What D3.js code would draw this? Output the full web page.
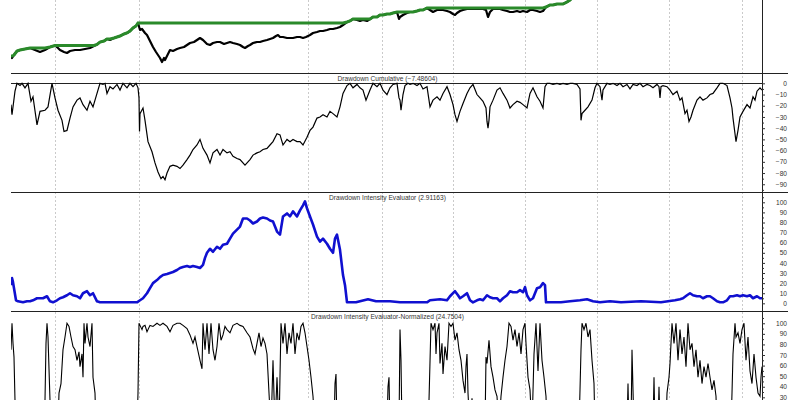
<!DOCTYPE html>
<html><head><meta charset="utf-8">
<script src="https://cdn.jsdelivr.net/npm/d3@7"></script>
<style>body{margin:0;background:#fff}svg{display:block}text{font-family:"Liberation Sans",Arial,sans-serif}</style>
</head><body><svg id="c" width="800" height="400"></svg>
<script>
// ---- data (bar index, value) ----
const gridBars = [44,128,297,371,442,514,586,658,731];
const price = [[0,17],[1,15],[3,18],[6,22],[9,23],[14,24],[19,25],[24,23],[29,21],[34,23],[39,26],[44,27.5],[47,25],[49,23],[53,21],[56,20],[59,22],[64,23],[69,23],[74,24],[79,25],[83,27],[86,28.5],[89,31],[93,32],[96,34],[99,33],[103,35],[106,36],[109,37],[113,39],[116,40],[119,42],[122,45],[125,47],[127,50],[129,43],[131,44],[134,40],[136,38],[139,32],[142,26],[145,21],[147,18],[149,15],[151,11],[153,15],[154,13],[156,17],[159,23],[162,22],[166,24],[169,25],[173,26],[176,28],[179,30],[183,31],[186,33],[189,35],[192,33],[196,29],[199,28],[202,30],[206,31],[209,31],[213,29],[216,30],[219,31],[222,30],[226,29],[229,28],[232,26],[234,25],[237,27],[239,28],[242,30],[246,31],[249,31],[252,32],[256,33],[259,34],[262,35],[265,37],[267,38],[269,36],[272,36],[276,35],[279,35],[282,35],[286,36],[289,36],[292,35],[295,36],[299,38],[302,40],[306,41],[309,42],[312,42],[316,43],[319,44],[322,44],[326,45],[329,46],[332,48],[336,51],[339,52],[342,54],[346,53],[349,52],[352,53],[356,52],[359,54],[362,56],[366,56],[369,58],[372,58],[376,59],[379,59],[382,60],[386,61],[388,54],[389,56],[392,58],[396,60],[399,61],[402,61],[406,62],[409,63],[412,63],[416,65],[419,63],[422,61],[426,63],[429,63],[432,63],[436,62],[439,61],[442,59],[444,58],[446,60],[449,62],[452,63],[456,64],[459,64],[462,64],[466,64],[469,64],[472,64],[475,63],[477,56],[479,61],[482,64],[486,64],[489,64],[492,63],[496,62],[499,61],[502,61],[506,62],[509,61],[512,62],[516,61],[519,63],[522,63],[526,62],[529,61],[532,62],[535,66],[539,68],[542,68],[546,69],[549,69],[552,69],[556,71],[559,73],[562,76],[565,79],[569,83]];
const drawdown = [[0,-19],[1,-28],[4,-7],[6,0],[9,-2],[11,0],[14,-4],[17,0],[20,-16],[22,-12],[26,-37],[29,-25],[34,-24],[37,-21],[41,0],[44,-13],[47,-24],[51,-33],[53,-43],[56,-42],[59,-31],[62,-21],[66,-15],[69,-13],[72,-19],[76,-24],[79,-16],[82,-21],[86,-9],[89,0],[92,-1],[94,0],[96,-9],[99,-3],[102,-5],[106,-1],[109,-6],[112,0],[116,-4],[119,0],[122,-3],[125,0],[127,-4],[128,-13],[128.5,-43],[129,-27],[132,-22],[134,-33],[137,-52],[141,-61],[144,-71],[147,-79],[150,-85],[152,-83],[154,-86],[156,-80],[159,-74],[162,-73],[166,-74],[169,-76],[172,-73],[176,-68],[179,-64],[182,-59],[186,-55],[189,-50],[192,-58],[196,-64],[199,-71],[202,-62],[206,-59],[209,-64],[212,-59],[216,-62],[219,-61],[222,-65],[226,-67],[229,-68],[234,-73],[239,-68],[242,-64],[246,-62],[249,-61],[252,-59],[256,-58],[259,-55],[262,-52],[266,-45],[269,-46],[272,-55],[276,-50],[279,-52],[282,-50],[286,-52],[289,-52],[292,-55],[296,-48],[299,-42],[302,-39],[306,-31],[309,-30],[312,-28],[316,-30],[319,-25],[322,-27],[326,-30],[329,-21],[332,-9],[336,-2],[339,0],[342,-4],[346,-1],[349,-4],[352,-6],[355,-15],[359,-6],[362,0],[366,-3],[369,0],[372,-6],[376,-10],[379,-4],[382,-1],[386,0],[388,-13],[389,-15],[390,-24],[392,-10],[394,-2],[397,0],[399,-1],[402,0],[406,-2],[409,0],[412,-5],[416,-3],[419,-21],[422,-15],[426,-12],[429,-15],[432,-9],[436,-3],[439,-10],[442,-19],[444,-28],[446,-34],[449,-25],[452,-18],[456,-9],[459,-4],[462,-1],[466,-10],[469,-13],[472,-16],[475,-22],[476,-34],[477,-40],[478,-33],[479,-21],[482,-15],[486,-6],[489,-4],[492,-9],[496,-15],[499,-22],[502,-19],[506,-16],[509,-17],[512,-19],[516,-22],[519,-9],[522,-4],[526,-12],[529,-16],[532,-22],[534,-3],[536,0],[539,0],[542,-1],[546,0],[549,-1],[552,0],[556,-1],[559,0],[562,0],[566,-1],[569,-5],[570,-33],[571,-27],[574,-24],[577,-21],[581,-15],[584,-4],[586,0],[589,-3],[591,-15],[592,-6],[596,0],[599,-1],[602,0],[606,-2],[609,0],[612,-3],[616,-1],[619,-5],[622,-1],[626,-2],[629,0],[632,-3],[636,-1],[639,-2],[642,-4],[646,-1],[648,-3],[649,-13],[650,-3],[652,-2],[656,-3],[659,-6],[662,-10],[666,-7],[669,-15],[671,-13],[674,-27],[676,-24],[678,-34],[680,-30],[682,-24],[686,-15],[689,-12],[692,-15],[696,-13],[699,-10],[702,-9],[706,-4],[709,0],[712,0],[716,-2],[719,-13],[721,-22],[722,-31],[724,-45],[725,-52],[727,-42],[729,-30],[732,-25],[736,-19],[739,-22],[742,-12],[744,-15],[746,-7],[749,-4],[751,-6]];
const intensity = [[0,18],[1,25],[2,21],[3,15],[5,3],[7,2],[12,1],[16,2],[19,2],[22,3],[26,5],[29,5],[32,5],[36,7],[39,2],[42,1],[46,3],[49,5],[52,6],[56,8],[59,10],[62,8],[66,7],[69,5],[72,10],[76,12],[79,8],[82,10],[86,2],[89,1],[100,1],[110,1],[120,1],[126,1],[129,3],[132,5],[136,10],[139,15],[142,20],[146,23],[149,26],[152,28],[156,29],[159,30],[162,31],[166,33],[169,35],[172,36],[176,37],[179,36],[182,37],[186,36],[189,35],[192,38],[194,45],[196,50],[199,54],[202,51],[206,56],[209,54],[212,58],[216,59],[219,64],[222,69],[226,73],[229,76],[232,84],[236,84],[239,82],[242,79],[246,81],[249,84],[252,85],[256,84],[259,82],[262,81],[266,71],[269,68],[272,86],[276,89],[279,86],[282,91],[286,86],[289,92],[292,97],[294,101],[296,94],[299,86],[302,78],[306,66],[309,61],[312,64],[316,59],[319,54],[322,50],[324,64],[326,68],[329,53],[332,28],[334,18],[336,1],[345,1],[357,4],[365,2],[379,2],[389,1],[416,1],[419,3],[429,4],[436,3],[439,7],[444,12],[447,8],[449,5],[452,7],[456,10],[459,3],[462,1],[466,3],[469,4],[472,3],[476,8],[479,6],[482,5],[486,5],[489,2],[492,5],[496,8],[499,12],[502,11],[506,11],[509,13],[512,11],[514,16],[516,8],[519,3],[522,5],[526,15],[529,16],[532,20],[534,18],[535,1],[550,1],[559,2],[569,3],[576,4],[582,2],[589,1],[599,2],[610,1],[630,2],[650,1],[664,3],[669,4],[672,5],[676,8],[679,10],[682,8],[686,7],[689,7],[692,5],[696,7],[699,7],[702,5],[706,2],[709,1],[712,1],[716,3],[719,7],[722,7],[726,8],[729,7],[732,8],[736,7],[739,8],[742,5],[746,7],[749,5],[751,5]];
const normalized = [[0,75],[1,100],[2,81],[3,68],[4,27],[5,0],[20,0],[33,0],[34,27],[35,81],[36,100],[37,87],[39,27],[40,0],[47,0],[48,34],[50,43],[52,75],[54,87],[56,100],[58,97],[60,87],[62,78],[64,75],[66,65],[68,73],[69,59],[71,71],[72,49],[73,100],[74,81],[76,100],[77,87],[79,78],[81,100],[82,49],[84,34],[85,0],[110,0],[126,0],[127,34],[128,100],[129,98],[131,94],[132,97],[134,98],[136,92],[139,98],[142,97],[146,100],[149,98],[152,100],[156,97],[159,92],[162,98],[166,100],[169,100],[172,98],[176,95],[179,89],[182,81],[184,87],[186,78],[189,65],[191,57],[192,100],[194,75],[196,100],[198,71],[200,100],[202,75],[204,65],[206,78],[208,100],[210,84],[212,89],[214,97],[216,94],[219,91],[222,98],[226,100],[229,98],[232,97],[236,91],[239,87],[242,76],[244,71],[246,81],[248,91],[250,78],[252,86],[254,81],[256,71],[258,34],[260,0],[262,65],[264,0],[266,49],[268,0],[270,100],[272,81],[274,100],[276,71],[278,91],[280,81],[282,100],[284,71],[286,91],[288,84],[290,97],[292,100],[294,91],[296,78],[298,65],[300,49],[302,31],[304,0],[323,0],[324,43],[325,52],[326,0],[376,0],[377,40],[378,49],[379,0],[388,0],[389,94],[390,65],[391,0],[417,0],[418,27],[420,100],[422,94],[424,100],[425,71],[426,91],[428,100],[429,62],[431,81],[432,52],[434,78],[436,65],[438,100],[440,97],[442,100],[444,84],[446,91],[448,75],[450,65],[452,46],[454,34],[455,59],[456,71],[457,34],[459,0],[461,29],[463,0],[474,0],[475,68],[476,62],[478,84],[480,59],[482,49],[484,37],[486,31],[488,0],[490,31],[492,49],[494,65],[496,78],[498,100],[500,97],[502,84],[504,94],[506,78],[508,91],[510,71],[512,94],[514,100],[515,81],[517,49],[519,37],[521,0],[523,71],[525,100],[527,55],[529,100],[531,65],[533,49],[535,31],[536,0],[568,0],[569,37],[570,75],[571,100],[573,94],[575,100],[577,87],[579,94],[581,65],[583,43],[584,0],[616,0],[617,43],[618,0],[620,0],[621,75],[622,37],[623,0],[642,0],[643,49],[644,0],[647,0],[648,40],[649,0],[655,0],[656,34],[658,49],[659,62],[661,100],[663,81],[665,100],[667,65],[669,94],[671,71],[673,87],[675,59],[677,100],[679,75],[681,81],[683,59],[685,75],[687,49],[689,65],[691,43],[693,59],[695,49],[697,62],[699,49],[701,37],[703,46],[705,31],[706,0],[720,0],[721,34],[722,71],[724,100],[725,87],[727,91],[729,81],[731,94],[733,100],[735,65],[737,87],[739,55],[741,43],[743,71],[745,49],[747,34],[749,31],[750,49],[751,59]];
const titles = ["", "Drawdown Cumulative (\u22127.48604)", "Drawdown Intensity  Evaluator (2.91163)", "Drawdown Intensity  Evaluator-Normalized (24.7504)"];
const ticks2 = [0,-10,-20,-30,-40,-50,-60,-70,-80,-90];
const ticks3 = [0,10,20,30,40,50,60,70,80,90,100];
const ticks4 = [30,40,50,60,70,80,90,100];
const minor2 = [-5,-15,-25,-35,-45,-55,-65,-75,-85,-95];
const minor3 = [5,15,25,35,45,55,65,75,85,95,105];
const minor4 = [25,35,45,55,65,75,85,95,105];

// ---- layout ----
const L = 11, R = 762;
const panels = [
  {top:-46, bottom:73, domain:[0,119]},
  {top:73, bottom:192, domain:[-96.9,9.2]},
  {top:192, bottom:311, domain:[-7.6,110.2]},
  {top:311, bottom:430, domain:[-0.9,111.6]}
];
const svg = d3.select("#c");
const x = d3.scaleLinear().domain([0,751]).range([L,R]);
panels.forEach((p,i)=>{
  p.y = d3.scaleLinear().domain(p.domain).range([p.bottom,p.top]);
  svg.append("clipPath").attr("id","cp"+i).append("rect")
    .attr("x",L).attr("y",p.top).attr("width",R-L).attr("height",p.bottom-p.top);
});

// gridlines
svg.append("g").selectAll("line").data(gridBars).join("line")
  .attr("x1",d=>Math.round(x(d))+0.5).attr("x2",d=>Math.round(x(d))+0.5).attr("y1",0).attr("y2",400)
  .attr("stroke","#bdbdbd").attr("stroke-width",0.8).attr("stroke-dasharray","2,2");

// separators
[73,192,311].forEach(yy=>{
  svg.append("line").attr("x1",L).attr("x2",788).attr("y1",yy+0.5).attr("y2",yy+0.5)
    .attr("stroke","#222").attr("stroke-width",1);
});
// zero line in panel 2
svg.append("line").attr("x1",L).attr("x2",R).attr("y1",Math.round(panels[1].y(0))+0.5).attr("y2",Math.round(panels[1].y(0))+0.5)
  .attr("stroke","#222").attr("stroke-width",1);

// right axis line
svg.append("line").attr("x1",R+0.5).attr("x2",R+0.5).attr("y1",0).attr("y2",400).attr("stroke","#222");

// titles
titles.forEach((t,i)=>{
  if(!t) return;
  svg.append("text").attr("x",(L+R)/2+1).attr("y",panels[i].top+7.5).attr("text-anchor","middle")
    .attr("font-size","6.6px").attr("fill","#333").text(t);
});

// axes
function axis(i, vals, minor){
  const g = svg.append("g").attr("transform",`translate(${R},0)`);
  g.call(d3.axisRight(panels[i].y).tickValues(minor).tickSize(2).tickFormat(""))
    .select(".domain").remove();
  g.selectAll(".tick line").attr("stroke","#333");
  const g2 = svg.append("g").attr("transform",`translate(${R},0)`);
  g2.call(d3.axisRight(panels[i].y).tickValues(vals).tickSize(3).tickPadding(2).tickFormat(d3.format("d")));
  g2.select(".domain").remove();
  g2.selectAll(".tick line").attr("stroke","#333");
  g2.selectAll(".tick text").attr("font-size","6.6px").attr("fill","#333")
    .attr("font-family","Liberation Sans, Arial, sans-serif")
    .attr("text-anchor","end").attr("x",25);
}
axis(1,ticks2,minor2); axis(2,ticks3,minor3); axis(3,ticks4,minor4);

// lines
const line = (p)=>d3.line().x(d=>x(d[0])).y(d=>p.y(d[1]));
// running peak of price
let m=-Infinity; const peak = price.map(d=>{m=Math.max(m,d[1]);return [d[0],m];});
svg.append("path").datum(price).attr("clip-path","url(#cp0)").attr("d",line(panels[0]))
  .attr("fill","none").attr("stroke","#000").attr("stroke-width",2.2).attr("stroke-linejoin","round");
svg.append("path").datum(peak).attr("clip-path","url(#cp0)").attr("d",line(panels[0]))
  .attr("fill","none").attr("stroke","#2a8a2a").attr("stroke-width",3);
svg.append("path").datum(drawdown).attr("clip-path","url(#cp1)").attr("d",line(panels[1]))
  .attr("fill","none").attr("stroke","#000").attr("stroke-width",1.2);
svg.append("path").datum(intensity).attr("clip-path","url(#cp2)").attr("d",line(panels[2]))
  .attr("fill","none").attr("stroke","#1010d0").attr("stroke-width",2.6).attr("stroke-linejoin","round");
svg.append("path").datum(normalized).attr("clip-path","url(#cp3)").attr("d",line(panels[3]))
  .attr("fill","none").attr("stroke","#000").attr("stroke-width",1.1);
</script></body></html>
